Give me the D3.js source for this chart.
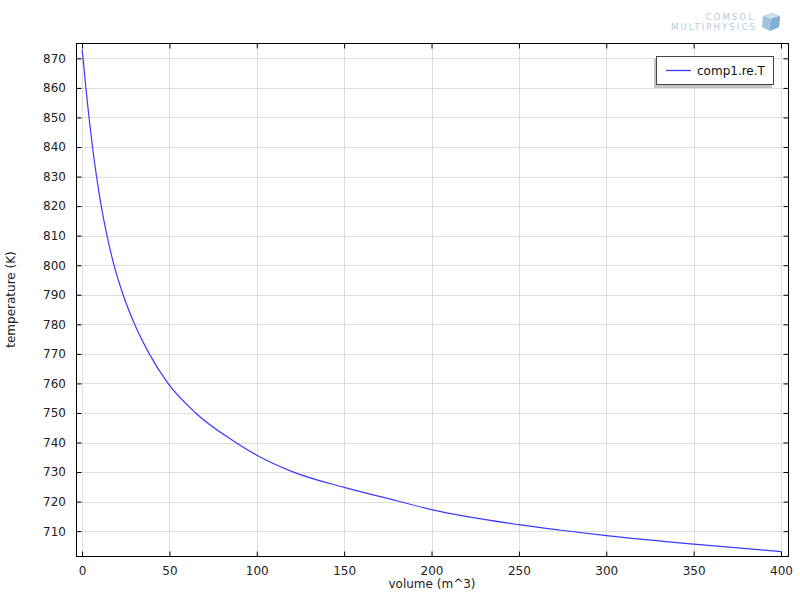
<!DOCTYPE html>
<html><head><meta charset="utf-8">
<script src="https://cdn.jsdelivr.net/npm/d3@7"></script>
<style>body{margin:0;background:#fff}svg{display:block;font-family:"DejaVu Sans",sans-serif}</style>
</head><body>
<script>
const volume = [0, 0.6, 2.2, 4.0, 6.0, 8.3, 11.0, 14.3, 18.3, 23.5, 30.1, 38.5, 49.2, 65, 88, 100, 121, 150, 180, 200, 250, 273, 300, 350, 400];
const temperature = [873, 870, 860, 850, 840, 830, 820, 810, 800, 790, 780, 770, 760, 750, 740, 735.7, 730, 724.8, 720.3, 717.3, 712.2, 710.4, 708.5, 705.6, 703.1];
const xTicks = [0, 50, 100, 150, 200, 250, 300, 350, 400];
const yTicks = [710, 720, 730, 740, 750, 760, 770, 780, 790, 800, 810, 820, 830, 840, 850, 860, 870];
const seriesName = "comp1.re.T";
const xTitle = "volume (m^3)";
const yTitle = "temperature (K)";

const W = 800, H = 600;
const L = 76, R = 788, T = 43, B = 556;
const svg = d3.select("body").append("svg").attr("width", W).attr("height", H);

const x = d3.scaleLinear().domain([-3.45, 404]).range([L, R]);
const y = d3.scaleLinear().domain([701.6, 875.2]).range([B, T]);

// grid
const g = svg.append("g");
g.selectAll(".vx").data(xTicks).join("line")
  .attr("x1", d => Math.round(x(d)) + 0.5).attr("x2", d => Math.round(x(d)) + 0.5)
  .attr("y1", T).attr("y2", B).attr("stroke", "#dddddd");
g.selectAll(".hy").data(yTicks).join("line")
  .attr("y1", d => Math.round(y(d)) + 0.5).attr("y2", d => Math.round(y(d)) + 0.5)
  .attr("x1", L).attr("x2", R).attr("stroke", "#dddddd");

// curve
const line = d3.line().x((d, i) => x(volume[i])).y(d => y(d)).curve(d3.curveMonotoneX);
svg.append("path").datum(temperature).attr("d", line)
  .attr("fill", "none").attr("stroke", "#3a3aff").attr("stroke-width", 1.2);

// axes with inward ticks
const tk = 5;
const fmt = d3.format("d");
const ax = svg.append("g").attr("transform", `translate(0,${B + 0.5})`)
  .call(d3.axisBottom(x).tickValues(xTicks).tickFormat(fmt).tickSize(-tk).tickPadding(10));
const axT = svg.append("g").attr("transform", `translate(0,${T + 0.5})`)
  .call(d3.axisTop(x).tickValues(xTicks).tickFormat("").tickSize(-tk));
const ay = svg.append("g").attr("transform", `translate(${L + 0.5},0)`)
  .call(d3.axisLeft(y).tickValues(yTicks).tickFormat(fmt).tickSize(-tk).tickPadding(10));
const ayR = svg.append("g").attr("transform", `translate(${R + 0.5},0)`)
  .call(d3.axisRight(y).tickValues(yTicks).tickFormat("").tickSize(-tk));
[ax, axT, ay, ayR].forEach(a => {
  a.select(".domain").remove();
  a.selectAll("line").attr("stroke", "#000");
  a.selectAll("text").attr("fill", "#222").style("font-size", "12px").style("font-family", "DejaVu Sans");
});
ay.selectAll("text").attr("dx", "-0.5");

// frame
svg.append("rect").attr("x", L + 0.5).attr("y", T + 0.5).attr("width", R - L).attr("height", B - T)
  .attr("fill", "none").attr("stroke", "#000");

// axis titles
svg.append("text").attr("x", (L + R) / 2).attr("y", 588).attr("text-anchor", "middle")
  .style("font-size", "12px").attr("fill", "#222").text(xTitle);
svg.append("text").attr("transform", `translate(15,${(T + B) / 2}) rotate(-90)`).attr("text-anchor", "middle")
  .style("font-size", "12px").attr("fill", "#222").text(yTitle);

// legend
const lg = svg.append("g");
lg.append("rect").attr("x", 654).attr("y", 59).attr("width", 118).attr("height", 29).attr("fill", "#c4c4c4");
lg.append("rect").attr("x", 656.5).attr("y", 56.5).attr("width", 117).attr("height", 28).attr("fill", "#fff").attr("stroke", "#444");
lg.append("line").attr("x1", 666).attr("x2", 691).attr("y1", 70.5).attr("y2", 70.5).attr("stroke", "#3a3aff").attr("stroke-width", 1.3);
lg.append("text").attr("x", 697).attr("y", 75).style("font-size", "12px").attr("fill", "#111").text(seriesName);

// logo
const lo = svg.append("g").attr("fill", "#b0cbe0");
lo.append("text").attr("x", 755).attr("y", 20).attr("text-anchor", "end")
  .style("font-size", "8.5px").style("letter-spacing", "2.1px").text("COMSOL");
lo.append("text").attr("x", 757).attr("y", 30).attr("text-anchor", "end")
  .style("font-size", "8.5px").style("letter-spacing", "2.1px").text("MULTIPHYSICS");
lo.append("polygon").attr("points", "763,16 772,13 780,16 779,27 770,31 762,27").attr("fill", "#9fc3de");
lo.append("polygon").attr("points", "763,16 772,13 780,16 771,19").attr("fill", "#c8dded");
lo.append("polygon").attr("points", "771,19 780,16 779,27 770,31").attr("fill", "#7fb0d6");
</script>
</body></html>
